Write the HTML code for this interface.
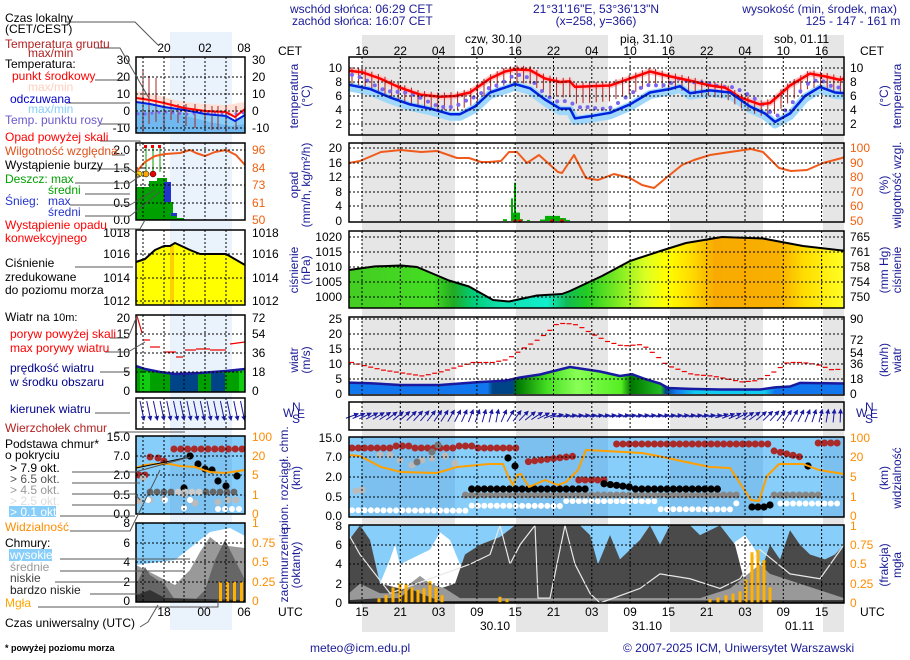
<!DOCTYPE html>
<html><head><meta charset="utf-8">
<style>
html,body{margin:0;padding:0;background:#fff;}
svg{display:block;font-family:"Liberation Sans",sans-serif;}
text{font-size:12px;}
.b{fill:#1a1a96}
.t{font-size:12px}
</style></head>
<body>
<svg id="s" width="910" height="660" viewBox="0 0 910 660" xmlns="http://www.w3.org/2000/svg">
<defs>
<linearGradient id="pg" x1="349" x2="844" gradientUnits="userSpaceOnUse">
<stop offset="0" stop-color="#44cc22"/><stop offset="0.17" stop-color="#44dd22"/>
<stop offset="0.21" stop-color="#22aa22"/><stop offset="0.25" stop-color="#00cc77"/>
<stop offset="0.3" stop-color="#11ddaa"/><stop offset="0.4" stop-color="#11eecc"/>
<stop offset="0.44" stop-color="#11bb55"/><stop offset="0.48" stop-color="#22cc22"/>
<stop offset="0.55" stop-color="#88ee22"/><stop offset="0.6" stop-color="#ddff22"/>
<stop offset="0.64" stop-color="#ffff00"/><stop offset="0.69" stop-color="#ffdd00"/>
<stop offset="0.74" stop-color="#f8aa00"/><stop offset="0.87" stop-color="#f8b000"/>
<stop offset="0.92" stop-color="#ffdd00"/><stop offset="1" stop-color="#ffff22"/>
</linearGradient>
<linearGradient id="wg" x1="349" x2="844" gradientUnits="userSpaceOnUse">
<stop offset="0" stop-color="#1177ee"/><stop offset="0.28" stop-color="#1177ee"/>
<stop offset="0.29" stop-color="#004488"/><stop offset="0.33" stop-color="#004488"/>
<stop offset="0.34" stop-color="#007700"/><stop offset="0.4" stop-color="#44dd22"/>
<stop offset="0.46" stop-color="#88ff55"/><stop offset="0.55" stop-color="#55ee22"/>
<stop offset="0.57" stop-color="#007700"/><stop offset="0.63" stop-color="#22bb22"/>
<stop offset="0.64" stop-color="#004488"/><stop offset="0.66" stop-color="#1177ee"/>
<stop offset="0.7" stop-color="#11ccee"/><stop offset="0.84" stop-color="#11ccee"/>
<stop offset="0.86" stop-color="#1177ee"/><stop offset="1" stop-color="#1177ee"/>
</linearGradient>
<marker id="ah" markerWidth="5" markerHeight="5" refX="4" refY="2.5" orient="auto"><path d="M0,0 L5,2.5 L0,5 z" fill="#1a1aa0"/></marker>
</defs>
<g id="bg"></g>
<g id="dat"></g>
<g id="txt" fill="#000">
<!-- header -->
<text x="290" y="13" class="b">wschód słońca: 06:29 CET</text>
<text x="292" y="25" class="b">zachód słońca: 16:07 CET</text>
<text x="596" y="13" class="b" text-anchor="middle">21°31'16"E, 53°36'13"N</text>
<text x="596" y="25" class="b" text-anchor="middle">(x=258,  y=366)</text>
<text x="897" y="13" class="b" text-anchor="end">wysokość (min, środek, max)</text>
<text x="853" y="25" class="b" text-anchor="middle">125 - 147 - 161 m</text>
<text x="465" y="43">czw, 30.10</text>
<text x="620" y="43">pią, 31.10</text>
<text x="774" y="43">sob, 01.11</text>
<text x="278" y="55">CET</text><text x="860" y="55">CET</text>
<text x="278" y="616">UTC</text><text x="860" y="616">UTC</text>
<text x="480" y="630">30.10</text><text x="632" y="630">31.10</text><text x="785" y="630">01.11</text>
<text x="310" y="652" class="b">meteo@icm.edu.pl</text>
<text x="623" y="652" class="b">© 2007-2025 ICM, Uniwersytet Warszawski</text>
<!-- left labels -->
<text x="5" y="22">Czas lokalny</text><text x="5" y="33">(CET/CEST)</text>
<text x="5" y="48" fill="#b22222">Temperatura gruntu</text><text x="28" y="57" fill="#b22222">max/min</text>
<text x="5" y="68">Temperatura:</text>
<text x="12" y="80" fill="#f00">punkt środkowy</text>
<text x="28" y="91" fill="#ffd0c0">max/min</text>
<text x="10" y="103" fill="#0000cc">odczuwana</text>
<text x="28" y="113" fill="#87cefa">max/min</text>
<text x="5" y="124" fill="#6a5acd">Temp. punktu rosy</text>
<text x="5" y="141" fill="#f00">Opad powyżej skali</text>
<text x="5" y="155" fill="#e0501a">Wilgotność względna</text>
<text x="5" y="169">Wystąpienie burzy</text>
<text x="5" y="183" fill="#00a000">Deszcz: max</text>
<text x="48" y="194" fill="#00a000">średni</text>
<text x="5" y="205" fill="#2233cc">Śnieg:</text><text x="48" y="205" fill="#2233cc">max</text>
<text x="48" y="216" fill="#2233cc">średni</text>
<text x="5" y="229" fill="#f00">Wystąpienie opadu</text><text x="5" y="242" fill="#f00">konwekcyjnego</text>
<text x="5" y="267">Ciśnienie</text><text x="5" y="281">zredukowane</text><text x="5" y="294">do poziomu morza</text>
<text x="5" y="321">Wiatr na <tspan font-size="11">10m:</tspan></text>
<text x="10" y="338" fill="#f00">poryw powyżej skali</text>
<text x="10" y="352" fill="#f00">max porywy wiatru</text>
<text x="10" y="372" fill="#00008b">prędkość wiatru</text>
<text x="10" y="386" fill="#00008b">w środku obszaru</text>
<text x="10" y="413" fill="#00008b">kierunek wiatru</text>
<text x="5" y="432" fill="#b22222">Wierzchołek chmur</text>
<text x="5" y="448">Podstawa chmur*</text><text x="5" y="459">o pokryciu</text>
<text x="10" y="472">&gt; 7.9 okt.</text>
<text x="10" y="483" fill="#555">&gt; 6.5 okt.</text>
<text x="10" y="494" fill="#999">&gt; 4.5 okt.</text>
<text x="10" y="505" fill="#ddd">&gt; 2.5 okt.</text>
<rect x="9" y="506" width="47" height="11" fill="#87cefa"/>
<text x="10" y="516" fill="#fff">&gt; 0.1 okt.</text>
<text x="5" y="531" fill="#ff8c00">Widzialność</text>
<text x="5" y="547">Chmury:</text>
<rect x="9" y="549" width="43" height="12" fill="#87cefa"/>
<text x="10" y="559" fill="#fff">wysokie</text>
<text x="10" y="571" fill="#999">średnie</text>
<text x="10" y="582" fill="#444">niskie</text>
<text x="10" y="594" fill="#222">bardzo niskie</text>
<text x="5" y="607" fill="#ffa500">Mgła</text>
<text x="5" y="627">Czas uniwersalny (UTC)</text>
<text x="5" y="651" font-size="9" font-weight="bold" style="font-size:9px">* powyżej poziomu morza</text>
</g>
</svg>
<script>
const S=document.getElementById('s'),BG=document.getElementById('bg'),D=document.getElementById('dat');
const NS='http://www.w3.org/2000/svg';
function e(p,t,a,txt){const n=document.createElementNS(NS,t);for(const k in a)n.setAttribute(k,a[k]);if(txt!==undefined)n.textContent=txt;p.appendChild(n);return n;}
function P(a){return a.map(p=>p[0]+','+p[1]).join(' ');}
function line(pts,col,w,g){e(g||D,'polyline',{points:P(pts),fill:'none',stroke:col,'stroke-width':w,'stroke-linejoin':'round'});}
function area(pts,base,fill,g){const q=pts.slice();q.push([pts[pts.length-1][0],base]);q.unshift([pts[0][0],base]);e(g||D,'polygon',{points:P(q),fill:fill});}
function txt(x,y,s,o){o=o||{};const a={x:x,y:y};if(o.a)a['text-anchor']=o.a;if(o.c)a.fill=o.c;if(o.rot)a.transform=o.rot;e(D,'text',a,s);}
function interp(arr,x){for(let i=0;i<arr.length-1;i++){if(x>=arr[i][0]&&x<=arr[i+1][0]){const t=(x-arr[i][0])/(arr[i+1][0]-arr[i][0]);return arr[i][1]+t*(arr[i+1][1]-arr[i][1]);}}return x<arr[0][0]?arr[0][1]:arr[arr.length-1][1];}
const X0=349,X1=844,LX0=136,LX1=245;
// background bands
e(BG,'rect',{x:170,y:32,width:62,height:598,fill:'#eaf2fc'});
[[362,455],[516,608],[670,763],[823,844]].forEach(b=>e(BG,'rect',{x:b[0],y:35,width:b[1]-b[0],height:597,fill:'#e6e6e6'}));
const GX=[];for(let k=0;k<13;k++)GX.push(362+k*38.3);
const LGX=[143,164,184,205,226];
const hrs=['16','22','04','10','16','22','04','10','16','22','04','10','16'];
const utc=['15','21','03','09','15','21','03','09','15','21','03','09','15'];
GX.forEach((x,i)=>{txt(x,55,hrs[i],{a:'middle'});txt(x,616,utc[i],{a:'middle'});});
txt(164,52,'20',{a:'middle'});txt(205,52,'02',{a:'middle'});txt(244,52,'08',{a:'middle'});
txt(164,616,'18',{a:'middle'});txt(204,616,'00',{a:'middle'});txt(244,616,'06',{a:'middle'});
function grid(x0,x1,y0,y1,gx,gy){gx.forEach(x=>e(D,'line',{x1:x,x2:x,y1:y0,y2:y1,stroke:'#000','stroke-dasharray':'2,2'}));gy.forEach(y=>e(D,'line',{x1:x0,x2:x1,y1:y,y2:y,stroke:'#000','stroke-dasharray':'2,2'}));}
function frame(x0,x1,y0,y1){e(D,'rect',{x:x0,y:y0,width:x1-x0,height:y1-y0,fill:'none',stroke:'#000','stroke-width':1.5});}
function ticks(x,ys,labels,anchor,col){ys.forEach((y,i)=>txt(x,y+4,labels[i],{a:anchor,c:col}));}
function vtitle(x,y,l1,l2){const g=e(D,'g',{transform:`translate(${x},${y}) rotate(-90)`});e(g,'text',{x:0,y:0,'text-anchor':'middle',fill:'#1a1a96'},l1);if(l2)e(g,'text',{x:0,y:12,'text-anchor':'middle',fill:'#1a1a96'},l2);}
// ===== MAIN TEMPERATURE =====
const ty=T=>138-7*T;
const red=[[349,9.6],[362,9.4],[380,8.5],[400,7.2],[420,6.2],[440,5.9],[455,6],[470,6.5],[490,8.5],[505,9.5],[515,9.8],[530,9.7],[545,8.5],[560,8],[570,8.1],[575,7.3],[590,7.4],[610,7.5],[630,8.5],[650,9.5],[670,8.8],[690,8.2],[710,7.5],[725,7.2],[740,5.8],[760,4.8],[770,5],[790,7.5],[810,9.2],[825,8.8],[840,8.3],[844,8.5]];
const blue=[[349,7.6],[370,7],[390,5.8],[410,4.8],[430,4.2],[450,3.4],[460,3.4],[475,4.5],[490,6.5],[505,7.2],[515,7.7],[530,7.1],[545,5.5],[560,4.2],[570,4.2],[575,2.8],[590,3.1],[610,3.6],[630,4.8],[650,6.5],[670,7],[680,7.4],[690,6.4],[710,6.8],[730,6.5],[750,4.5],[765,3.5],[775,2.3],[790,3.5],[805,6],[820,7.3],[835,6.5],[844,6.4]];
line(blue.map(p=>[p[0],ty(p[1])+2]),'#9fd8fa',9);
line(red.map(p=>[p[0],ty(p[1])]),'#ffc8c8',6);
for(let x=352;x<844;x+=6.6){const r=interp(red,x);const b=interp(blue,x);e(D,'line',{x1:x,x2:x,y1:ty(r)-4,y2:ty(r)+10+(r-b)*1.5,stroke:'#b22222','stroke-width':1});}
for(let x=352;x<844;x+=7.6){const b=interp(blue,x)+1.1+Math.sin(x/9)*0.4;e(D,'circle',{cx:x,cy:ty(b),r:2,fill:'#7b68ee'});}
line(red.map(p=>[p[0],ty(p[1])]),'#ff0000',2.5);
line(blue.map(p=>[p[0],ty(p[1])]),'#0022dd',2.5);
grid(X0,X1,57,135,GX,[68,82,96,110,124]);
frame(X0,X1,57,135);
ticks(342,[68,82,96,110,124],['10','8','6','4','2'],'end');
ticks(850,[68,82,96,110,124],['10','8','6','4','2'],'start');
vtitle(298,96,'temperatura','(°C)');
e(D,'g',{}).outerHTML;
{const g=e(D,'g',{transform:'translate(888,96) rotate(-90)'});e(g,'text',{x:0,y:0,'text-anchor':'middle',fill:'#1a1a96'},'(°C)');e(g,'text',{x:0,y:13,'text-anchor':'middle',fill:'#1a1a96'},'temperatura');}
// ===== MAIN PRECIP =====
const py=v=>221-v*3.65;
[[503,507,0.5],[511,513,6.2],[514,516,10.5],[513,520,2.3],[520,523,0.5],[527,530,0.3],[545,560,1.4],[560,566,0.8],[540,545,0.4],[566,570,0.3]].forEach(b=>e(D,'rect',{x:b[0],y:py(b[2]),width:b[1]-b[0],height:221-py(b[2]),fill:'#00b000'}));
[515,520,552,562].forEach(x=>e(D,'circle',{cx:x,cy:221,r:1.8,fill:'#e00'}));
const hum=[[349,163],[360,161],[381,152],[401,150],[421,152],[437,151],[457,158],[469,158],[481,162],[489,162],[501,161],[509,152],[517,152],[527,163],[539,155],[558,172],[562,173],[574,155],[586,178],[598,180],[614,174],[630,178],[642,185],[654,188],[666,178],[682,165],[694,160],[710,155],[730,152],[751,149],[763,152],[779,168],[791,171],[807,170],[823,163],[842,158],[844,157]];
line(hum,'#f05a1a',2);
grid(X0,X1,143,222,GX,[148,163,177,192,206]);
frame(X0,X1,143,222);
ticks(342,[148,163,177,192,206,221],['20','16','12','8','4','0'],'end');
ticks(850,[148,163,177,192,206,221],['100','90','80','70','60','50'],'start','#f06010');
vtitle(298,185,'opad','(mm/h, kg/m²/h)');
{const g=e(D,'g',{transform:'translate(888,185) rotate(-90)'});e(g,'text',{x:0,y:0,'text-anchor':'middle',fill:'#1a1a96'},'(%)');e(g,'text',{x:0,y:13,'text-anchor':'middle',fill:'#1a1a96'},'wilgotność wzgl.');}
// ===== MAIN PRESSURE =====
const ppy=p=>237+(1020-p)*3;
const pr=[[349,1009],[375,1010.2],[401,1010.5],[417,1010],[449,1005.5],[469,1003.5],[493,999],[509,998.5],[537,1000.5],[562,1001],[570,1002],[602,1007],[630,1012],[662,1015.5],[686,1018],[722,1020],[763,1019.5],[803,1017],[842,1015.5],[844,1015.5]];
area(pr.map(p=>[p[0],ppy(p[1])]),308,'url(#pg)');
line(pr.map(p=>[p[0],ppy(p[1])]),'#000',2);
grid(X0,X1,231,308,GX,[237,252,267,282,297]);
frame(X0,X1,231,308);
ticks(342,[237,252,267,282,297],['1020','1015','1010','1005','1000'],'end');
ticks(850,[237,252,267,282,297],['765','761','758','754','750'],'start');
vtitle(298,270,'ciśnienie','(hPa)');
{const g=e(D,'g',{transform:'translate(888,270) rotate(-90)'});e(g,'text',{x:0,y:0,'text-anchor':'middle',fill:'#1a1a96'},'(mm Hg)');e(g,'text',{x:0,y:13,'text-anchor':'middle',fill:'#1a1a96'},'ciśnienie');}
// ===== MAIN WIND =====
const wy=v=>394-v*3;
const ws=[[349,3.8],[370,3.6],[400,3],[440,3],[480,4],[505,4.4],[520,5.5],[540,6.5],[570,9],[600,7.5],[620,6],[632,6.6],[645,5],[660,3.5],[668,2],[690,1.7],[720,1.5],[760,1.5],[775,2.2],[790,2.5],[800,3.7],[844,3.5]];
area(ws.map(p=>[p[0],wy(p[1])]),394,'url(#wg)');
line(ws.map(p=>[p[0],wy(p[1])]),'#1a1aa0',2.5);
const gu=[[349,10.5],[380,8],[400,7],[420,6],[440,7.5],[460,9.5],[470,10.5],[490,10.5],[505,11.5],[520,15],[535,18],[545,20.5],[555,23.5],[565,23.5],[575,23],[590,20],[605,17.5],[620,16],[640,16.5],[655,12.5],[665,9.5],[690,6.5],[710,6],[725,5],[740,4],[755,4.5],[770,7],[785,10.5],[800,10.5],[815,9.8],[830,8],[844,8.5]];
for(let x=349;x<840;x+=6.4){e(D,'line',{x1:x,x2:x+5,y1:wy(interp(gu,x)),y2:wy(interp(gu,x)),stroke:'#ee0000','stroke-width':1.2});}
grid(X0,X1,317,395,GX,[319,334,349,364,379]);
frame(X0,X1,317,395);
ticks(342,[319,334,349,364,379,394],['25','20','15','10','5','0'],'end');
ticks(850,[319,340,353,364,379,394],['90','72','54','36','18','0'],'start');
vtitle(298,360,'wiatr','(m/s)');
{const g=e(D,'g',{transform:'translate(888,360) rotate(-90)'});e(g,'text',{x:0,y:0,'text-anchor':'middle',fill:'#1a1a96'},'(km/h)');e(g,'text',{x:0,y:13,'text-anchor':'middle',fill:'#1a1a96'},'wiatr');}
// ===== MAIN DIRECTION =====
grid(X0,X1,402,430,GX,[]);
for(let x=352;x<842;x+=6.6){let ang; // degrees from +x axis, up negative
 if(x<500) ang=-20-(x-352)/148*60; else if(x<560) ang=-70+(x-500); else if(x<720) ang=-8; else ang=-15-(x-720)/124*75;
 const L=13,a=ang*Math.PI/180,dx=Math.cos(a)*L/2,dy=Math.sin(a)*L/2;
 e(D,'line',{x1:x-dx,y1:416-dy,x2:x+dx,y2:416+dy,stroke:'#1a1aa0','stroke-width':1,'marker-end':'url(#ah)'});}
frame(X0,X1,402,430);
function compass(x,y){txt(x,y+5,'W',{c:'#1a1a96'});txt(x+9,y-1,'N',{c:'#1a1a96'});txt(x+9,y+11,'S',{c:'#1a1a96'});txt(x+14,y+6,'E',{c:'#1a1a96'});}
compass(856,412);compass(283,412);
// ===== MAIN CLOUDS =====
e(D,'rect',{x:X0,y:437,width:X1-X0,height:80,fill:'#87cefa'});
[[362,455],[516,608],[670,763],[823,844]].forEach(b=>e(D,'rect',{x:b[0],y:437,width:b[1]-b[0],height:80,fill:'rgba(0,40,120,0.08)'}));
const dot=(x,y,c,r)=>e(D,'circle',{cx:x,cy:y,r:r||3.5,fill:c});
for(let x=352;x<842;x+=6.3){
 let ry=null;
 if(x<525) ry=447+((x|0)%3==0?-1:1); else if(x<575) ry=462-(x-525)/50*6; else if(x<605) ry=480; else if(x<615) ry=null; else if(x<770) ry=444; else if(x<805) ry=450+(x-770)/35*8; else if(x>812) ry=443;
 if(x>520&&x<528) ry=null;
 if(ry) dot(x,ry,'#aa2a2a');
 // white
 let wy2 = x<470?510:(x<560?505:(x<660?500:(x<730?508:502)));
 if(!(x>740&&x<775)) dot(x,wy2+Math.sin(x)*1.5,'#fff',3);
 // gray row
 if(x>460&&x<820&&!(x>740&&x<770)) dot(x,495,'#888',3.5);
 // black
 if(x>470&&x<722&&!(x>588&&x<600)) dot(x,(x>590&&x<630)?482+(x-590)/8:489,'#000',3.6);
}
[[356,491],[362,490],[380,455],[390,455],[400,460],[412,465],[422,460],[432,458],[445,456],[455,463]].forEach(p=>dot(p[0],p[1],'#bbb',3.5));
[[417,462],[432,452],[438,445]].forEach(p=>dot(p[0],p[1],'#777',3.5));
[[752,507],[758,507],[764,507],[770,505],[508,458],[515,466],[808,466]].forEach(p=>dot(p[0],p[1],'#000',3.6));
const vis=[[349,455],[360,456],[381,467],[401,472],[437,473],[457,467],[489,464],[503,464],[509,478],[513,485],[517,475],[521,474],[529,487],[545,480],[558,485],[566,482],[578,470],[586,450],[642,453],[658,456],[686,462],[710,467],[730,468],[751,500],[759,501],[767,476],[779,464],[803,464],[819,470],[844,474]];
line(vis,'#ffa000',2);
grid(X0,X1,437,517,GX,[457,477,497]);
frame(X0,X1,437,517);
ticks(342,[438,457,477,497,516],['15.0','7.0','2.0','0.5','0.0'],'end');
ticks(850,[438,457,477,497,516],['100','20','5','1','0'],'start','#ff8c00');
vtitle(288,478,'pion. rozciągł. chm.','(km)');
{const g=e(D,'g',{transform:'translate(888,478) rotate(-90)'});e(g,'text',{x:0,y:0,'text-anchor':'middle',fill:'#1a1a96'},'(km)');e(g,'text',{x:0,y:13,'text-anchor':'middle',fill:'#1a1a96'},'widzialność');}
// ===== MAIN COVER =====
const cy=o=>603-o*9.7;
e(D,'rect',{x:X0,y:525,width:X1-X0,height:78,fill:'#87cefa'});
const wh=[[349,2],[380,2],[390,4.5],[395,6],[400,4],[410,4.5],[420,5],[430,5.5],[440,7.3],[450,6.5],[460,4],[720,3],[735,6.3],[745,7],[755,5.5],[765,3],[844,3]];
area(wh.map(p=>[p[0],cy(p[1])]),603,'#fff');
const dk=[[349,6.5],[360,8],[370,6.5],[380,2],[400,1.5],[440,1.5],[455,2],[465,5],[480,6],[500,6.8],[515,8],[545,8],[580,8],[590,7],[598,4],[610,7],[620,4.5],[640,6.5],[650,8],[660,6],[670,8],[690,8],[700,7],[720,8],[735,6],[745,2],[760,3],[770,6],[780,4.5],[790,7.5],[800,6],[810,5],[825,4.5],[835,5],[844,6]];
area(dk.map(p=>[p[0],cy(p[1])]),603,'#4a4a4a');
const md=[[349,1],[360,2],[380,1],[400,1],[410,2],[420,2.8],[430,2],[445,1.5],[460,0.5],[700,0.5],[730,1.5],[760,4],[770,3],[844,0.5]];
area(md.map(p=>[p[0],cy(p[1])]),603,'#999');
const lo=[[349,0.3],[380,0.5],[400,0.5],[410,1.5],[420,1],[440,0.2],[844,0.3]];
area(lo.map(p=>[p[0],cy(p[1])]),603,'#333');
line([[349,cy(7)],[360,cy(5)],[375,cy(3)],[390,cy(1)],[470,cy(4)],[490,cy(5)],[500,cy(8)],[510,cy(4)],[520,cy(6)],[535,cy(8)],[538,cy(0.5)],[550,cy(0.5)],[565,cy(8)],[575,cy(4)],[590,cy(1)],[600,cy(0)],[640,cy(1.5)],[660,cy(3)],[690,cy(2.5)],[720,cy(1.5)],[740,cy(2.5)],[760,cy(5.5)],[790,cy(3)],[820,cy(2.5)],[844,cy(6)]],'#e8e8e8',1.2);
[[379,0.06],[386,0.1],[393,0.2],[400,0.25],[406,0.24],[412,0.2],[418,0.17],[424,0.19],[430,0.28],[436,0.2],[442,0.1],[500,0.08],[507,0.05],[710,0.05],[718,0.07],[726,0.1],[733,0.12],[740,0.15],[746,0.3],[752,0.65],[758,0.68],[764,0.55],[770,0.2]].forEach(b=>e(D,'rect',{x:b[0]-1.5,y:603-b[1]*78,width:3,height:b[1]*78,fill:'#ffb000'}));
grid(X0,X1,525,603,GX,[545,564,584]);
frame(X0,X1,525,603);
ticks(342,[526,545,564,584,603],['8','6','4','2','0'],'end');
ticks(850,[526,545,564,584,603],['1','0.75','0.5','0.25','0'],'start','#ff8c00');
vtitle(288,565,'zachmurzenie','(oktanty)');
{const g=e(D,'g',{transform:'translate(888,565) rotate(-90)'});e(g,'text',{x:0,y:0,'text-anchor':'middle',fill:'#1a1a96'},'(frakcja)');e(g,'text',{x:0,y:13,'text-anchor':'middle',fill:'#1a1a96'},'mgła');}
// ===== LEFT PANELS =====
// temp
const lty=T=>111-1.7*T;
area([[136,100],[160,103],[184,108],[205,113],[226,117],[235,122],[245,116]],133,'#87cefa');
area([[136,112],[150,112],[170,113],[190,117],[210,122],[230,126],[245,124]],133,'#6fb8f0');
e(D,'polygon',{points:'136,91 160,96 184,102 205,104 226,105 245,102 245,112 226,116 205,115 184,112 160,106 136,101',fill:'#ffe0d6'});
[[143,70,133],[149,76,124],[156,78,122],[164,96,130],[171,100,120],[178,104,123],[186,104,126],[195,104,128],[205,104,128],[212,106,130],[218,106,130],[226,106,132],[236,106,130]].forEach(b=>e(D,'line',{x1:b[0],x2:b[0],y1:b[1],y2:b[2],stroke:'#a52a2a','stroke-width':1}));
for(let x=138;x<245;x+=7)e(D,'circle',{cx:x,cy:113+Math.sin(x/7),r:1.5,fill:'#7b68ee'});
line([[136,98],[150,100],[164,103],[184,108],[205,111],[226,112],[235,117],[245,109]],'#f00',2);
line([[136,102],[150,104],[164,107],[184,110],[205,114],[226,116],[235,121],[245,115]],'#0022dd',2);
grid(LX0,LX1,57,133,LGX,[77,94,111,128]);frame(LX0,LX1,57,133);
ticks(130,[60,77,94,111,128],['30','20','10','0','-10'],'end');
ticks(252,[60,77,94,111,128],['30','20','10','0','-10'],'start');
// precip
e(D,'rect',{x:136,y:187,width:13,height:33,fill:'#00a000'});
e(D,'rect',{x:149,y:181,width:8,height:39,fill:'#00a000'});
e(D,'rect',{x:157,y:178,width:10,height:42,fill:'#00a000'});
e(D,'rect',{x:164,y:182,width:7,height:20,fill:'#2233cc'});
e(D,'rect',{x:167,y:202,width:6,height:18,fill:'#00a000'});
e(D,'rect',{x:171,y:213,width:6,height:7,fill:'#2233cc'});
e(D,'rect',{x:171,y:216,width:6,height:4,fill:'#00a000'});
e(D,'rect',{x:176,y:218,width:8,height:2,fill:'#00a000'});
[[139,174,'#ffd700'],[146,174,'#ffa500'],[153,174,'#e00']].forEach(c=>{e(D,'line',{x1:c[0]+7,x2:c[0]+7,y1:148,y2:172,stroke:'#00a000'});e(D,'circle',{cx:c[0],cy:c[1],r:3,fill:c[2],stroke:'#000','stroke-width':0.5});e(D,'rect',{x:c[0]+5,y:145,width:3,height:3,fill:'#e00'});});
line([[136,172],[145,162],[155,156],[165,154],[180,153],[190,150],[196,153],[205,156],[215,152],[226,150],[236,155],[245,165]],'#f05a1a',2);
grid(LX0,LX1,143,220,LGX,[150,168,185,203]);frame(LX0,LX1,143,220);
ticks(130,[150,168,185,203,220],['2.0','1.5','1.0','0.5','0.0'],'end');
ticks(252,[150,168,185,203,220],['96','84','73','61','50'],'start','#f06010');
// pressure
const lpr=[[136,262],[145,259],[155,250],[164,246],[170,246],[175,243],[190,250],[200,254],[226,254],[245,265]];
area(lpr,305,'#ffff00');e(D,'rect',{x:170,y:246,width:4,height:59,fill:'#ffd000'});
line(lpr,'#000',2);
grid(LX0,LX1,230,305,LGX,[254,278,301]);frame(LX0,LX1,230,305);
ticks(130,[233,254,278,301],['1018','1016','1014','1012'],'end');
ticks(252,[233,254,278,301],['1018','1016','1014','1012'],'start');
// wind
const lw=[[136,366],[145,369],[160,372],[175,374],[200,373],[226,371],[245,369]];
area(lw,392,'#00a000');
e(D,'rect',{x:140,y:372,width:10,height:20,fill:'#11cc11'});
e(D,'rect',{x:170,y:374,width:28,height:18,fill:'#004488'});
e(D,'rect',{x:211,y:373,width:14,height:19,fill:'#004488'});
e(D,'rect',{x:239,y:370,width:6,height:22,fill:'#11cc11'});
line(lw,'#1a1aa0',2.5);
[[137,316,142,333],[143,340,150,340],[150,347,160,347],[165,352,176,352],[176,357,183,357],[185,350,196,350],[196,349,210,349],[210,350,226,350],[230,344,245,342]].forEach(s=>e(D,'line',{x1:s[0],y1:s[1],x2:s[2],y2:s[3],stroke:'#e00','stroke-width':1.2}));
grid(LX0,LX1,315,392,LGX,[334,353,372]);frame(LX0,LX1,315,392);
ticks(130,[318,334,353,372,391],['20','15','10','5','0'],'end');
ticks(252,[318,334,353,372,391],['72','54','36','18','0'],'start');
// direction
grid(LX0,LX1,398,429,LGX,[]);
for(let x=140;x<246;x+=6.7){e(D,'line',{x1:x,y1:401,x2:x+4,y2:420,stroke:'#1a1aa0','stroke-width':1,'marker-end':'url(#ah)'});}
frame(LX0,LX1,398,429);
// clouds
e(D,'rect',{x:LX0,y:436,width:109,height:78,fill:'#87cefa'});
e(D,'rect',{x:170,y:436,width:62,height:78,fill:'rgba(0,40,120,0.07)'});
for(let x=174;x<246;x+=6.8)dot(x,449,'#aa2a2a');
[[150,457],[158,458],[164,461],[139,475],[145,475]].forEach(p=>dot(p[0],p[1],'#aa2a2a'));
[[190,456],[198,464],[205,469],[212,470],[218,481],[226,486],[237,476],[184,488]].forEach(p=>dot(p[0],p[1],'#000',3.6));
for(let x=150;x<240;x+=7)dot(x,492,(x>175&&x<200)?'#ccc':'#666',3.4);
[[143,478],[139,501],[150,500],[164,499],[184,494],[190,500],[195,503],[218,502],[228,500],[236,500]].forEach(p=>dot(p[0],p[1],'#bbb',3.4));
[[148,500],[165,500],[184,508],[190,500],[218,509],[225,509],[232,509],[239,509]].forEach(p=>dot(p[0],p[1],'#fff',3));
line([[136,468],[145,465],[155,464],[170,464],[180,466],[195,467],[210,472],[225,473],[245,470]],'#ffa000',2);
e(D,'line',{x1:136,y1:468,x2:190,y2:457,stroke:'#000','stroke-width':1});
grid(LX0,LX1,436,514,LGX,[456,475,495]);frame(LX0,LX1,436,514);
ticks(130,[437,456,475,495,514],['15.0','7.0','2.0','0.5','0.0'],'end');
ticks(252,[437,456,475,495,514],['100','20','5','1','0'],'start','#ff8c00');
// cover
e(D,'rect',{x:LX0,y:523,width:109,height:79,fill:'#87cefa'});
area([[136,565],[175,560],[190,548],[200,540],[210,532],[230,528],[245,536]],602,'#fff');
area([[136,565],[175,585],[190,570],[200,552],[210,537],[220,545],[245,548]],602,'#999');
area([[136,585],[145,567],[150,575],[165,585],[175,600],[195,600],[205,590],[215,560],[225,540],[240,570],[245,580]],602,'#666');
area([[136,595],[150,590],[165,598],[245,600]],602,'#333');
[[219,20],[226,20],[233,20],[240,20]].forEach(b=>e(D,'rect',{x:b[0],y:602-b[1],width:3,height:b[1],fill:'#ffb000'}));
grid(LX0,LX1,523,602,LGX,[543,562,582]);frame(LX0,LX1,523,602);
ticks(130,[523,543,562,582,601],['8','6','4','2','0'],'end');
ticks(252,[523,543,562,582,601],['1','0.75','0.5','0.25','0'],'start','#ff8c00');
// leader lines
[[[65,22],[135,22],[158,45]],[[95,48],[120,48],[150,100]],[[95,80],[130,80]],[[66,103],[130,103]],[[100,124],[130,124]],[[100,141],[140,141],[140,146]],[[112,155],[125,155]],[[90,169],[130,169],[140,176]],[[75,183],[130,183],[140,176]],[[85,194],[130,194]],[[70,205],[130,205],[155,190]],[[85,216],[130,216],[160,192]],[[110,229],[140,229],[145,220]],[[75,267],[133,267]],[[110,338],[128,338],[137,316]],[[105,352],[128,352],[145,342]],[[100,372],[130,372]],[[95,413],[130,413]],[[115,432],[185,432]],[[72,472],[135,472],[190,457]],[[72,483],[140,483]],[[72,494],[135,494],[140,500]],[[72,505],[135,505]],[[60,516],[135,516]],[[70,531],[130,531],[160,470]],[[60,559],[190,559]],[[60,571],[185,571]],[[55,582],[135,582]],[[90,594],[140,594]],[[38,607],[218,607],[218,600]],[[140,627],[148,622],[158,605]]].forEach(l=>line(l,'#555',1));
</script>
</body></html>
